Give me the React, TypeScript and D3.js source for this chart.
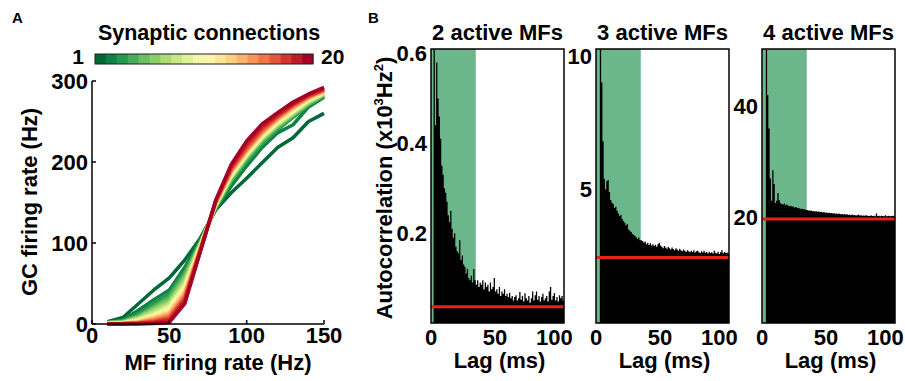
import React from "react";
import * as d3 from "d3";

// ---------- Panel A data ----------
const mfRates = [10, 20, 30, 40, 50, 60, 70, 80, 90, 100, 110, 120, 130, 140, 150];
const synapticCounts = [1, 2, 3, 4, 5, 6, 7, 8, 9, 10, 11, 12, 13, 14, 15, 16, 17, 18, 19, 20];
const gcRates = [
  [3, 8, 25, 42, 57, 79, 106, 141, 162, 180, 199, 218, 230, 250, 260],
  [2, 5, 17, 30, 42, 70, 103, 142, 170, 195, 218, 236, 246, 268, 280],
  [2, 4, 12, 26, 38, 65, 102, 143, 175, 200, 222, 240, 255, 270, 281],
  [2, 3.5, 10, 22, 34, 62, 101, 144, 177, 203, 225, 242, 257, 271, 282],
  [1.5, 3, 9, 20, 31, 59, 100, 145, 179, 205, 227, 244, 258, 272, 283],
  [1.5, 2.5, 8, 18, 28, 56, 99, 145.5, 180, 206, 228, 245, 259, 273, 283.5],
  [1, 2, 7, 16, 26, 53, 98, 146, 181, 207, 229, 246, 260, 274, 284],
  [1, 2, 6, 14, 24, 50, 97, 146.5, 182, 208, 230, 247, 261, 275, 284.5],
  [1, 1.5, 5, 12, 22, 48, 96.5, 147, 183, 209, 231, 248, 262, 276, 285],
  [1, 1.5, 4.5, 11, 20, 46, 96, 147.5, 184, 210, 232, 249, 263, 276.5, 285.5],
  [0.5, 1, 4, 10, 18, 44, 95, 148, 185, 211, 233, 250, 264, 277, 286],
  [0.5, 1, 3.5, 9, 16, 42, 94.5, 148.5, 186, 212, 234, 251, 265, 278, 286.5],
  [0.5, 1, 3, 8, 14, 40, 94, 149, 187, 213, 235, 252, 266, 278.5, 287],
  [0.5, 0.8, 2.5, 7, 12.5, 38, 93, 149.5, 188, 214, 236, 253, 267, 279, 287.5],
  [0.3, 0.6, 2, 5.5, 11, 36, 92.5, 150, 189, 215, 237, 254, 268, 280, 288],
  [0.3, 0.5, 1.5, 4.5, 9, 34, 92, 150.5, 190, 216, 238, 255, 269, 280.5, 288.5],
  [0.2, 0.4, 1.2, 3.5, 7.5, 32, 91, 151, 191, 218, 240, 256, 270, 281, 289],
  [0.1, 0.3, 1, 2.5, 6, 30, 90.5, 151.5, 193, 220, 242, 257, 271, 282, 290],
  [0.1, 0.2, 0.5, 1.5, 4, 28, 90, 152, 195, 223, 244, 259, 272, 283, 291],
  [0, 0, 0, 0.5, 2, 25, 89, 153, 197, 226, 247, 261, 274, 284, 292],
];
const aXTicks = [0, 50, 100, 150];
const aYTicks = [0, 100, 200, 300];

// ---------- Panel B data ----------
const panelTitles = ["2 active MFs", "3 active MFs", "4 active MFs"];
const autocorr2 = [
  0, 0, 0.9, 0.44, 0.58, 0.5, 0.46, 0.41, 0.35, 0.33, 0.3, 0.29, 0.27, 0.24, 0.225, 0.25, 0.21, 0.19, 0.2, 0.17,
  0.16, 0.155, 0.185, 0.14, 0.15, 0.13, 0.125, 0.11, 0.12, 0.1, 0.095, 0.105, 0.09, 0.12, 0.095, 0.085, 0.095, 0.08, 0.09, 0.085,
  0.095, 0.075, 0.09, 0.08, 0.085, 0.07, 0.09, 0.075, 0.08, 0.1, 0.07, 0.075, 0.065, 0.08, 0.06, 0.07, 0.065, 0.075, 0.06, 0.065,
  0.058, 0.067, 0.055, 0.06, 0.05, 0.058, 0.062, 0.05, 0.055, 0.069, 0.052, 0.06, 0.048, 0.066, 0.055, 0.05, 0.06, 0.045, 0.055, 0.07,
  0.05, 0.062, 0.07, 0.052, 0.06, 0.048, 0.058, 0.065, 0.05, 0.055, 0.06, 0.048, 0.07, 0.08, 0.052, 0.06, 0.067, 0.05, 0.058, 0.048,
  0.062, 0.055, 0.06, 0.05,
];
const autocorr3 = [
  0, 0, 0, 14, 9, 6.8, 5.4, 5.0, 5.3, 5.35, 4.9, 4.6, 4.5, 4.45, 4.3, 4.35, 4.2, 4.1, 4.0, 4.05,
  3.9, 3.82, 3.75, 3.65, 3.7, 3.5, 3.45, 3.4, 3.33, 3.3, 3.25, 3.2, 3.15, 3.2, 3.1, 3.1, 3.07, 3.0, 3.05, 2.95,
  3.0, 2.92, 2.98, 2.9, 2.95, 2.88, 2.93, 2.85, 2.95, 3.0, 2.9, 2.85, 2.8, 2.88, 2.82, 2.78, 2.85, 2.8, 2.75, 2.82,
  2.77, 2.72, 2.8, 2.75, 2.7, 2.78, 2.72, 2.68, 2.75, 2.7, 2.66, 2.72, 2.68, 2.65, 2.7, 2.66, 2.72, 2.64, 2.68, 2.7,
  2.65, 2.62, 2.68, 2.64, 2.7, 2.63, 2.66, 2.6, 2.67, 2.62, 2.65, 2.6, 2.7, 2.63, 2.6, 2.67, 2.58, 2.65, 2.72, 2.6,
  2.66, 2.62, 2.64, 2.6,
];
const autocorr4 = [
  0, 0, 0, 80, 42, 36, 27, 23, 28.5, 26, 22.6, 23, 24.4, 23.1, 22.6, 22.4, 22.3, 22.5, 22.2, 22.3,
  22.1, 22.0, 22.1, 21.9, 21.95, 21.8, 21.85, 21.7, 21.75, 21.6, 21.5, 21.55, 21.4, 21.45, 21.3, 21.35, 21.25, 21.2, 21.25, 21.1,
  21.15, 21.05, 21.1, 21.0, 21.05, 20.95, 21.0, 20.9, 20.95, 20.85, 20.9, 20.8, 20.85, 20.75, 20.8, 20.7, 20.75, 20.65, 20.7, 20.6,
  20.7, 20.55, 20.6, 20.5, 20.6, 20.5, 20.55, 20.45, 20.5, 20.4, 20.5, 20.4, 20.45, 20.35, 20.4, 20.5, 20.35, 20.4, 20.3, 20.35,
  20.3, 20.4, 20.3, 20.25, 20.3, 20.35, 20.25, 20.3, 20.2, 20.7, 20.25, 20.3, 20.2, 20.3, 20.25, 20.2, 20.4, 20.2, 20.25, 20.3,
  20.2, 20.25, 20.3, 20.2,
];
const baselines = [0.036, 2.45, 19.7];
const yDomains = [
  [0, 0.61],
  [0, 10.25],
  [1, 50.3],
];
const yTickSets = [
  [0.2, 0.4, 0.6],
  [5, 10],
  [20, 40],
];
const bXTicks = [0, 50, 100];
const lagMax = 104;
const shadeEnd = 35;

const FONT = "'Liberation Sans', Arial, Helvetica, sans-serif";

function PanelA() {
  const x = d3.scaleLinear().domain([0, 150]).range([92, 324]);
  const y = d3.scaleLinear().domain([0, 300]).range([324, 81]);
  const color = d3.scaleSequential(d3.interpolateRdYlGn).domain([20, 1]);
  const line = d3
    .line<number>()
    .x((_, i) => x(mfRates[i]))
    .y((d) => y(d));
  const cb = d3.scaleBand<number>().domain(synapticCounts).range([95, 313]);
  return (
    <g>
      <text x={12} y={23} fontSize={15} fontWeight="bold">A</text>
      <text x={209} y={40} fontSize={21.5} fontWeight="bold" textAnchor="middle">
        Synaptic connections
      </text>
      {synapticCounts.map((s) => (
        <rect key={s} x={cb(s)} y={54} width={cb.bandwidth() + 0.5} height={10} fill={color(s)} />
      ))}
      <rect x={95} y={54} width={218} height={10} fill="none" stroke="#222" strokeWidth={1} />
      <text x={84} y={64} fontSize={21} fontWeight="bold" textAnchor="end">1</text>
      <text x={321} y={64} fontSize={21} fontWeight="bold">20</text>

      {gcRates.map((series, i) => (
        <path
          key={i}
          d={line(series) || ""}
          fill="none"
          stroke={color(synapticCounts[i])}
          strokeWidth={3.5}
          strokeLinejoin="round"
        />
      ))}

      <line x1={92} x2={92} y1={81} y2={324} stroke="#000" strokeWidth={1.5} />
      <line x1={92} x2={324} y1={324} y2={324} stroke="#000" strokeWidth={1.5} />
      {aYTicks.map((t) => (
        <g key={t}>
          <line x1={92} x2={96} y1={y(t)} y2={y(t)} stroke="#000" strokeWidth={1.5} />
          <text x={88} y={y(t)} dy="0.36em" fontSize={22} fontWeight="bold" textAnchor="end">
            {t}
          </text>
        </g>
      ))}
      {aXTicks.map((t) => (
        <g key={t}>
          <line x1={x(t)} x2={x(t)} y1={324} y2={320} stroke="#000" strokeWidth={1.5} />
          <text x={x(t)} y={343} fontSize={22} fontWeight="bold" textAnchor="middle">
            {t}
          </text>
        </g>
      ))}
      <text x={218} y={370} fontSize={22} fontWeight="bold" textAnchor="middle">
        MF firing rate (Hz)
      </text>
      <text
        transform="translate(37,202) rotate(-90)"
        fontSize={22}
        fontWeight="bold"
        textAnchor="middle"
      >
        GC firing rate (Hz)
      </text>
    </g>
  );
}

function PanelB() {
  const lefts = [431, 596, 762];
  const width = 133;
  const top = 49;
  const bottom = 323;
  const datasets = [autocorr2, autocorr3, autocorr4];
  return (
    <g>
      <text x={368} y={23} fontSize={15} fontWeight="bold">B</text>
      <text transform="translate(392,188) rotate(-90)" fontSize={22} fontWeight="bold" textAnchor="middle">
        Autocorrelation (x10
        <tspan fontSize={13} dy={-9}>3</tspan>
        <tspan dy={9}>Hz</tspan>
        <tspan fontSize={13} dy={-9}>2</tspan>
        <tspan dy={9}>)</tspan>
      </text>
      {datasets.map((vals, k) => {
        const left = lefts[k];
        const x = d3.scaleLinear().domain([0, lagMax]).range([left, left + width]);
        const y = d3.scaleLinear().domain(yDomains[k]).range([bottom, top]);
        const pts = vals.map((v, i) => [i, v] as [number, number]);
        pts.push([lagMax, vals[vals.length - 1]]);
        const area = d3
          .area<[number, number]>()
          .x((d) => x(d[0]))
          .y0(bottom + 2)
          .y1((d) => Math.max(top - 5, y(d[1])))
          .curve(d3.curveStepAfter);
        const cx = left + width / 2;
        const clipId = `clip${k}`;
        return (
          <g key={k}>
            <defs>
              <clipPath id={clipId}>
                <rect x={left} y={top} width={width} height={bottom - top} />
              </clipPath>
            </defs>
            <rect x={left} y={top} width={width} height={bottom - top} fill="#fff" />
            <g clipPath={`url(#${clipId})`}>
              <rect x={x(0)} y={top} width={x(shadeEnd) - x(0)} height={bottom - top} fill="#6cb68b" />
              <path d={area(pts) || ""} fill="#000" />
              <line
                x1={left}
                x2={left + width}
                y1={y(baselines[k])}
                y2={y(baselines[k])}
                stroke="#e8201e"
                strokeWidth={3}
              />
            </g>
            <rect x={left} y={top} width={width} height={bottom - top} fill="none" stroke="#000" strokeWidth={1.5} />
            {yTickSets[k].map((t) => (
              <text key={t} x={left - 4} y={y(t)} dy="0.36em" fontSize={22} fontWeight="bold" textAnchor="end">
                {t}
              </text>
            ))}
            {bXTicks.map((t) => (
              <text
                key={t}
                x={x(t)}
                dx={t === 100 ? -4.5 : 0}
                y={345}
                fontSize={22}
                fontWeight="bold"
                textAnchor="middle"
              >
                {t}
              </text>
            ))}
            <text x={cx} y={40} fontSize={22} fontWeight="bold" textAnchor="middle">
              {panelTitles[k]}
            </text>
            <text x={cx + 2} y={368} fontSize={22} fontWeight="bold" textAnchor="middle">
              Lag (ms)
            </text>
          </g>
        );
      })}
    </g>
  );
}

export default function App() {
  return (
    <svg
      width={905}
      height={381}
      viewBox="0 0 905 381"
      style={{ position: "absolute", left: 0, top: 0, background: "#fff", fontFamily: FONT }}
    >
      <rect width={905} height={381} fill="#fff" />
      <PanelA />
      <PanelB />
    </svg>
  );
}
